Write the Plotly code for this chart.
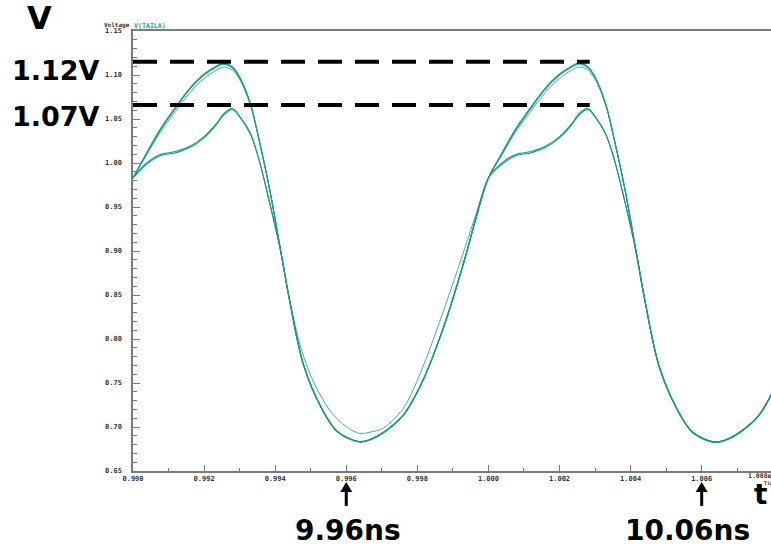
import plotly.graph_objects as go

# ---------------- data (time in units of 1e-8 s, voltage in V) ----------------
T_UP = [0.99000, 0.99035, 0.99075, 0.99120, 0.99160, 0.99200, 0.99235, 0.99255, 0.99280, 0.99300,
        0.99330, 0.99355, 0.99385, 0.99415, 0.99440, 0.99480, 0.99530, 0.99575, 0.99635, 0.99665,
        0.99705, 0.99760, 0.99790, 0.99825, 0.99865, 0.99895, 0.99935, 0.99965,
        1.00000, 1.00035, 1.00075, 1.00120, 1.00160, 1.00200, 1.00235, 1.00255, 1.00280, 1.00300,
        1.00330, 1.00355, 1.00385, 1.00415, 1.00440, 1.00480, 1.00530, 1.00575, 1.00635, 1.00665,
        1.00705, 1.00760, 1.00790, 1.00800]

V_A = [0.983, 1.009, 1.0375, 1.0636, 1.0852, 1.1011, 1.1102, 1.1136, 1.1090, 1.0977,
       1.068, 1.026, 0.969, 0.901, 0.845, 0.770, 0.7215, 0.6945, 0.6830, 0.6850,
       0.6935, 0.7130, 0.7320, 0.7610, 0.8030, 0.8390, 0.8930, 0.9370,
       0.983, 1.009, 1.0378, 1.0638, 1.0852, 1.1012, 1.1103, 1.1137, 1.1092, 1.0978,
       1.067, 1.025, 0.968, 0.900, 0.844, 0.769, 0.7205, 0.6935, 0.6825, 0.6845,
       0.6930, 0.7125, 0.7320, 0.7400]

V_B = [0.983, 1.0082, 1.0362, 1.0622, 1.0838, 1.0998, 1.1090, 1.1124, 1.1080, 1.0970,
       1.0675, 1.0258, 0.9690, 0.9012, 0.8452, 0.7705, 0.7220, 0.6950, 0.6835, 0.6855,
       0.6940, 0.7135, 0.7325, 0.7615, 0.8035, 0.8395, 0.8935, 0.9375,
       0.983, 1.0082, 1.0365, 1.0624, 1.0838, 1.0999, 1.1091, 1.1125, 1.1082, 1.0971,
       1.0665, 1.0248, 0.9680, 0.9002, 0.8445, 0.7695, 0.7210, 0.6940, 0.6830, 0.6850,
       0.6935, 0.7130, 0.7325, 0.7405]

V_C = [0.983, 1.007, 1.034, 1.059, 1.080, 1.096, 1.1055, 1.109, 1.1055, 1.095,
       1.066, 1.025, 0.969, 0.902, 0.846, 0.780, 0.734, 0.709, 0.6930, 0.6940,
       0.699, 0.721, 0.744, 0.778, 0.822, 0.857, 0.905, 0.942,
       0.983, 1.007, 1.0345, 1.0592, 1.0802, 1.0962, 1.1056, 1.1090, 1.1056, 1.0952,
       1.0655, 1.0245, 0.9685, 0.9010, 0.8448, 0.7698, 0.7212, 0.6942, 0.6832, 0.6852,
       0.6938, 0.7132, 0.7328, 0.7408]

V_D = [0.983, 0.999, 1.0095, 1.013, 1.019, 1.030, 1.045, 1.056, 1.062, 1.053,
       1.034, 1.003, 0.953, 0.901, 0.845, 0.7702, 0.7217, 0.6947, 0.6832, 0.6852,
       0.6937, 0.7132, 0.7322, 0.7612, 0.8032, 0.8392, 0.8932, 0.9372,
       0.983, 0.999, 1.0095, 1.013, 1.019, 1.030, 1.045, 1.056, 1.062, 1.053,
       1.033, 1.003, 0.954, 0.900, 0.8442, 0.7692, 0.7207, 0.6937, 0.6827, 0.6847,
       0.6932, 0.7127, 0.7322, 0.7402]

V_E = [0.983, 0.9975, 1.0080, 1.0115, 1.0175, 1.0285, 1.0435, 1.0545, 1.0605, 1.0525,
       1.0330, 1.0030, 0.9545, 0.9005, 0.8452, 0.7705, 0.7220, 0.6950, 0.6835, 0.6855,
       0.6940, 0.7135, 0.7325, 0.7615, 0.8035, 0.8395, 0.8935, 0.9375,
       0.983, 0.9975, 1.0080, 1.0115, 1.0175, 1.0285, 1.0435, 1.0545, 1.0605, 1.0525,
       1.0325, 1.0025, 0.9540, 0.8995, 0.8445, 0.7695, 0.7210, 0.6940, 0.6830, 0.6850,
       0.6935, 0.7130, 0.7325, 0.7405]

REF_LEVELS = [1.115, 1.066]
REF_SPAN = [0.990, 1.00285]
REF_LABELS = ["1.12V", "1.07V"]

MARK_TIMES = [0.996, 1.006]
MARK_LABELS = ["9.96ns", "10.06ns"]

X_TICKS = [0.990, 0.992, 0.994, 0.996, 0.998, 1.000, 1.002, 1.004, 1.006]
X_TICKTEXT = ["0.990", "0.992", "0.994", "0.996", "0.998", "1.000", "1.002", "1.004", "1.006"]
Y_TICKS = [0.65, 0.70, 0.75, 0.80, 0.85, 0.90, 0.95, 1.00, 1.05, 1.10, 1.15]
Y_TICKTEXT = ["0.65", "0.70", "0.75", "0.80", "0.85", "0.90", "0.95", "1.00", "1.05", "1.10", "1.15"]

X_RANGE = [0.990, 1.00795]
Y_RANGE = [0.65, 1.15]

# ---------------- figure ----------------
W, H = 771, 550
ML, MR, MT, MB = 133, 0, 31, 79
PW, PH = W - ML - MR, H - MT - MB

def xp(px):
    return (px - ML) / PW

def yp(py):
    return (H - MB - py) / PH

def x_to_paper(t):
    return (t - X_RANGE[0]) / (X_RANGE[1] - X_RANGE[0])

TEAL = "#1f978f"
TEAL_THIN = "#4aa8a2"

fig = go.Figure()
for vals, col, w in [(V_C, TEAL_THIN, 1.0), (V_D, TEAL, 1.1), (V_E, TEAL, 1.1),
                     (V_B, TEAL, 1.1), (V_A, TEAL, 1.2)]:
    fig.add_trace(go.Scatter(x=T_UP, y=vals, mode="lines",
                             line=dict(color=col, width=w, shape="spline", smoothing=1.0),
                             hoverinfo="skip", showlegend=False))

for lvl in REF_LEVELS:
    fig.add_trace(go.Scatter(x=REF_SPAN, y=[lvl, lvl], mode="lines",
                             line=dict(color="black", width=4, dash="24px,13px"),
                             hoverinfo="skip", showlegend=False, cliponaxis=False))

AX = "#7a7a7a"
TF = dict(family="DejaVu Sans Mono", size=7, color="#333333", weight="bold")

fig.update_layout(
    width=W, height=H, autosize=False,
    margin=dict(l=ML, r=MR, t=MT, b=MB, pad=0),
    paper_bgcolor="white", plot_bgcolor="white",
    xaxis=dict(range=X_RANGE, showgrid=False, zeroline=False,
               showline=True, linecolor=AX, linewidth=1.5, mirror=True,
               tickmode="array", tickvals=X_TICKS, ticktext=X_TICKTEXT,
               ticks="inside", ticklen=6, tickcolor=AX, tickwidth=1,
               minor=dict(ticks="inside", ticklen=3, tickcolor=AX, dtick=0.001, tick0=0.990),
               tickfont=TF, ticklabelstandoff=0),
    yaxis=dict(range=Y_RANGE, showgrid=False, zeroline=False,
               showline=True, linecolor=AX, linewidth=1.5,
               tickmode="array", tickvals=Y_TICKS, ticktext=Y_TICKTEXT,
               ticks="inside", ticklen=7, tickcolor=AX, tickwidth=1,
               minor=dict(ticks="inside", ticklen=4, tickcolor=AX, dtick=0.01, tick0=0.65),
               tickfont=TF, ticklabelstandoff=8),
)

BIG = dict(family="DejaVu Sans", color="black", weight="bold")
anns = []
anns.append(dict(text="V", x=xp(40), y=yp(18), font=dict(size=32, **BIG)))
for lab, py in zip(REF_LABELS, [70, 116]):
    anns.append(dict(text=lab, x=xp(56), y=yp(py), font=dict(size=27, **BIG)))
for lab, px in zip(MARK_LABELS, [348, 687]):
    anns.append(dict(text=lab, x=xp(px), y=yp(530), font=dict(size=28, **BIG)))
anns.append(dict(text="t", x=xp(760), y=yp(494), font=dict(size=28, **BIG)))
anns.append(dict(text="Voltage", x=xp(117), y=yp(25),
                 font=dict(family="DejaVu Sans Mono", size=6, color="#333333", weight="bold")))
anns.append(dict(text="V(TAILA)", x=xp(132), y=yp(26), xanchor="left",
                 font=dict(family="DejaVu Sans Mono", size=6.6, color=TEAL, weight="bold")))
anns.append(dict(text="1.008e-8", x=xp(746), y=yp(476), xanchor="left",
                 font=dict(family="DejaVu Sans Mono", size=6.5, color="#333333", weight="bold")))
anns.append(dict(text="Time", x=xp(762), y=yp(483), xanchor="left",
                 font=dict(family="DejaVu Sans Mono", size=5, color="#333333", weight="bold")))
for a in anns:
    a.setdefault("xanchor", "center")
    a.update(xref="paper", yref="paper", showarrow=False, yanchor="middle")
fig.update_layout(annotations=anns)

# arrows under the marked times
shapes = []
for t in MARK_TIMES:
    xc = x_to_paper(t)
    hw = 6 / PW
    shapes.append(dict(type="line", xref="paper", yref="paper",
                       x0=xc, x1=xc, y0=yp(506), y1=yp(490),
                       line=dict(color="black", width=3)))
    shapes.append(dict(type="path", xref="paper", yref="paper",
                       path=f"M {xc-hw} {yp(492)} L {xc} {yp(482)} L {xc+hw} {yp(492)} Z",
                       fillcolor="black", line=dict(color="black", width=0)))
fig.update_layout(shapes=shapes)

fig.write_html("out.html", config={"displayModeBar": False},
               post_script="document.body.style.margin='0';document.body.style.overflow='hidden';")
